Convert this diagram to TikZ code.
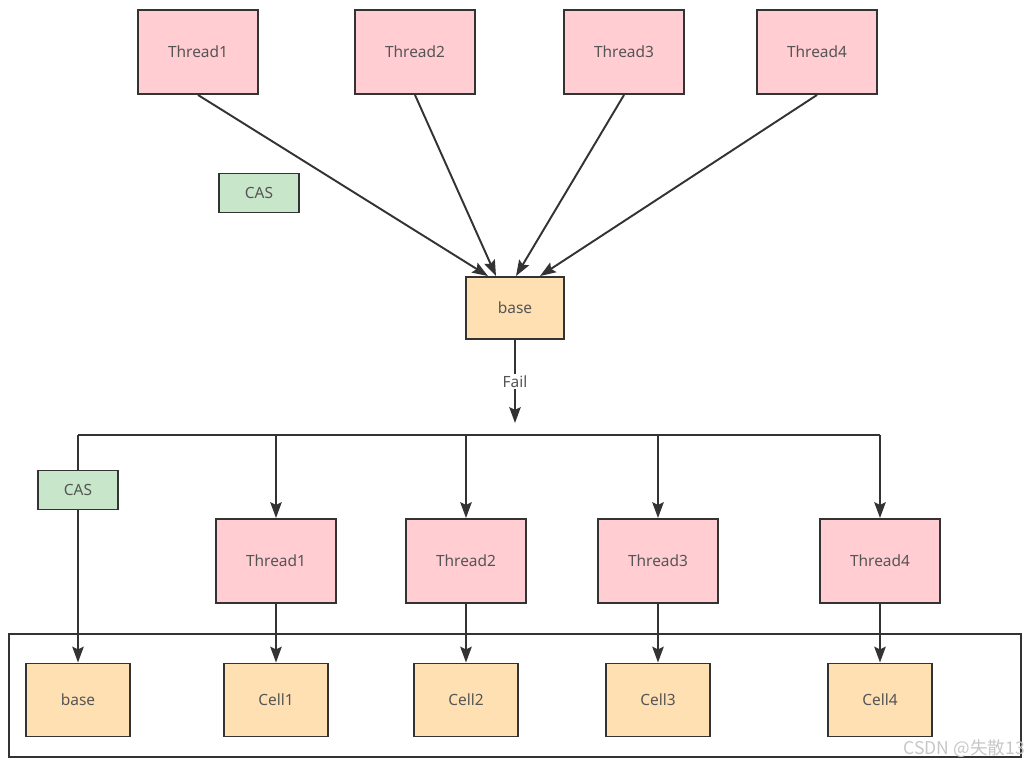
\documentclass[tikz,border=0pt]{standalone}
\usepackage{fontspec}
\setmainfont{Noto Sans}
\newfontfamily\cjk{Noto Sans CJK SC}
\usetikzlibrary{arrows.meta,positioning,calc}
\definecolor{threadpink}{HTML}{FFCDD2}
\definecolor{casgreen}{HTML}{C8E6C9}
\definecolor{cellorange}{HTML}{FFE0B2}
\definecolor{linegray}{HTML}{333333}
\definecolor{textgray}{HTML}{555555}

\begin{document}
\begin{tikzpicture}[
    x=0.02cm, y=-0.02cm,
    box/.style={rectangle, draw=linegray, line width=1.1pt, text=textgray, font=\fontsize{8.8}{10}\selectfont, minimum width=2.4cm, minimum height=1.68cm, align=center},
    thread/.style={box, fill=threadpink},
    cas/.style={box, fill=casgreen, minimum width=1.6cm, minimum height=0.78cm},
    cell/.style={box, fill=cellorange, minimum width=2.08cm, minimum height=1.46cm},
    arrow/.style={-{Stealth[length=9pt,width=6.5pt,inset=1.5pt]}, line width=1.1pt, draw=linegray},
    line/.style={line width=1.1pt, draw=linegray}
]
    \useasboundingbox (0,0) rectangle (1032,768);

    % Threads racing on base
    \node[thread] (t1) at (198,52) {Thread1};
    \node[thread] (t2) at (415,52) {Thread2};
    \node[thread] (t3) at (624,52) {Thread3};
    \node[thread] (t4) at (817,52) {Thread4};
    \node[cas] (cas1) at (259,193) {CAS};
    \node[box, fill=cellorange, minimum width=1.96cm, minimum height=1.24cm] (base) at (515,308) {base};
    \draw[arrow] (t1.south) -- ([xshift=-0.54cm]base.north);
    \draw[arrow] (t2.south) -- ([xshift=-0.38cm]base.north);
    \draw[arrow] (t3.south) -- ([xshift=0.02cm]base.north);
    \draw[arrow] (t4.south) -- ([xshift=0.5cm]base.north);

    % Fail -> split over the cells
    \coordinate (failend) at (515,423);
    \draw[arrow] (base) -- node[fill=white, inner sep=1pt, text=textgray, font=\fontsize{8.8}{10}\selectfont] (fail) {Fail} (failend);
    \coordinate (hl) at (78,435);
    \coordinate (hr) at (880,435);
    \draw[line] (hl) -- (hr);

    % Second round
    \node[cas] (cas2) at (78,490) {CAS};
    \node[thread] (b1) at (276,561) {Thread1};
    \node[thread] (b2) at (466,561) {Thread2};
    \node[thread] (b3) at (658,561) {Thread3};
    \node[thread] (b4) at (880,561) {Thread4};
    \foreach \t in {b1,b2,b3,b4}
        \draw[arrow] (\t.north |- hl) -- (\t);

    % Cells
    \draw[line] (9,634) rectangle (1021,757);
    \node[cell] (cbase) at (78,700) {base};
    \node[cell] (c1) at (276,700) {Cell1};
    \node[cell] (c2) at (466,700) {Cell2};
    \node[cell] (c3) at (658,700) {Cell3};
    \node[cell] (c4) at (880,700) {Cell4};
    \draw[line] (hl) -- (cas2);
    \draw[arrow] (cas2) -- (cbase);
    \draw[arrow] (b1) -- (c1);
    \draw[arrow] (b2) -- (c2);
    \draw[arrow] (b3) -- (c3);
    \draw[arrow] (b4) -- (c4);

    \node[text=black!22, font=\cjk\fontsize{10}{12}\selectfont, anchor=east] (mark) at (1031,749) {CSDN @失散13};
\end{tikzpicture}
\end{document}
